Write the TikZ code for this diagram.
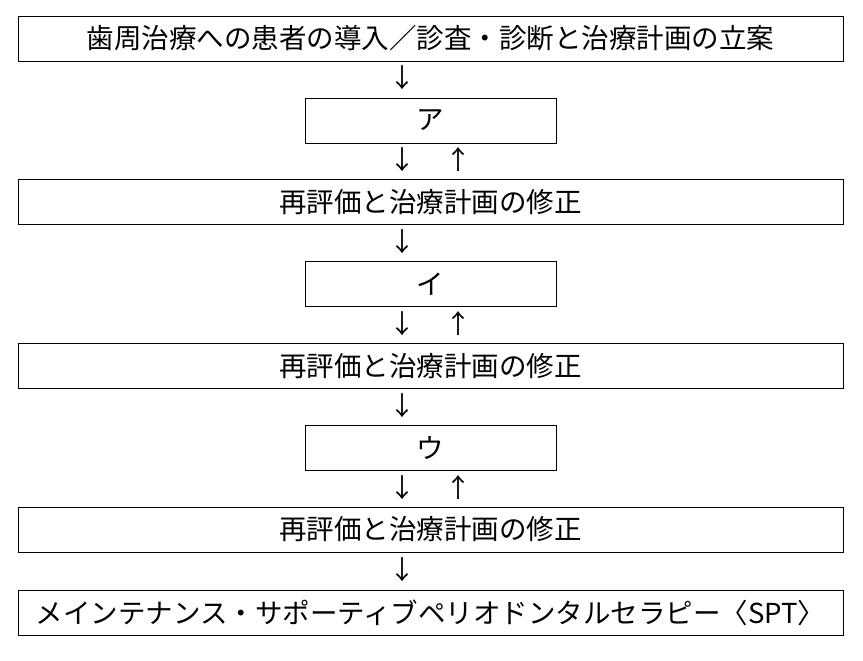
\documentclass[tikz,border=0pt]{standalone}
\usepackage{fontspec}
\setmainfont{Noto Sans CJK JP}
\begin{document}
\begin{tikzpicture}[x=1pt,y=-1pt,
  box/.style={draw,line width=0.8pt,minimum height=45pt,inner sep=0pt,font=\fontsize{27.5}{27.5}\selectfont},
  wide/.style={box,minimum width=825pt},
  narrow/.style={box,minimum width=251pt},
  arr/.style={font=\fontsize{26}{26}\selectfont,inner sep=0pt}]
\useasboundingbox (0,0) rectangle (863,661);
\node[wide] (b1) at (430.5,38.5) {歯周治療への患者の導入／診査・診断と治療計画の立案};
\node[narrow] (b2) at (430.5,120.5) {ア};
\node[wide] (b3) at (430.5,202) {再評価と治療計画の修正};
\node[narrow] (b4) at (430.5,284) {イ};
\node[wide] (b5) at (430.5,366) {再評価と治療計画の修正};
\node[narrow] (b6) at (430.5,447.5) {ウ};
\node[wide] (b7) at (430.5,529.5) {再評価と治療計画の修正};
\node[wide] (b8) at (430.5,612.5) {メインテナンス・サポーティブペリオドンタルセラピー〈SPT〉};
\node[arr] (d1) at (402,78) {↓};
\node[arr] (d2) at (402,160) {↓};
\node[arr] (u2) at (458,160) {↑};
\node[arr] (d3) at (402,242) {↓};
\node[arr] (d4) at (402,324) {↓};
\node[arr] (u4) at (458,324) {↑};
\node[arr] (d5) at (402,406) {↓};
\node[arr] (d6) at (402,488) {↓};
\node[arr] (u6) at (458,488) {↑};
\node[arr] (d7) at (402,570) {↓};
\end{tikzpicture}
\end{document}
